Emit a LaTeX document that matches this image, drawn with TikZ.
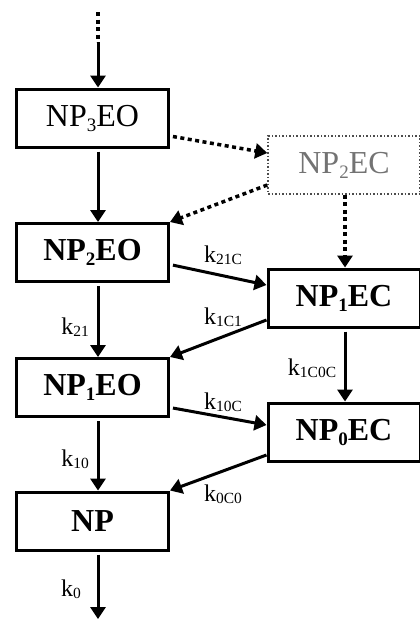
\documentclass[tikz,border=0pt]{standalone}
\usepackage{fontspec}
\setmainfont{Liberation Serif}
\usetikzlibrary{arrows.meta}
\newcommand{\boxsub}[1]{\raisebox{-5pt}{\fontsize{19}{19}\selectfont #1}}
\newcommand{\taux}[1]{k\raisebox{-1.5pt}{\fontsize{15.5}{15.5}\selectfont #1}}
\begin{document}
\begin{tikzpicture}[x=1pt,y=-1pt,line join=miter]
\tikzstyle{boite} = [draw,line width=3pt,minimum width=152pt,minimum height=58pt,inner sep=0pt,font=\fontsize{32}{34}\selectfont]
\tikzstyle{fleche} = [line width=3pt,-{Triangle[length=12pt,width=15pt]}]
\tikzstyle{pointille} = [line width=3.5pt,dash pattern=on 4pt off 3.5pt]
\tikzstyle{etiq} = [inner sep=0pt,font=\fontsize{24}{26}\selectfont]
\clip (0,0) rectangle (420,619);
%colonne de gauche
\node[boite] (NP3EO) at (92.5,118) {NP\boxsub{3}EO};
\node[boite,font=\fontsize{32}{34}\selectfont\bfseries] (NP2EO) at (92.5,252.5) {NP\boxsub{2}EO};
\node[boite,font=\fontsize{32}{34}\selectfont\bfseries] (NP1EO) at (92.5,387.5) {NP\boxsub{1}EO};
\node[boite,font=\fontsize{32}{34}\selectfont\bfseries] (NP) at (92.5,521) {NP};
%colonne de droite
\node[boite,line width=1.5pt,dash pattern=on 1.5pt off 2pt,draw=black!70,text=black!55] (NP2EC) at (344,165) {NP\boxsub{2}EC};
\node[boite,font=\fontsize{32}{34}\selectfont\bfseries] (NP1EC) at (344,298) {NP\boxsub{1}EC};
\node[boite,font=\fontsize{32}{34}\selectfont\bfseries] (NP0EC) at (344,432) {NP\boxsub{0}EC};
%entree et sortie
\coordinate (haut) at (98,12);
\coordinate (milieu) at (98,42);
\coordinate (bas) at (98,619);
\draw[pointille] (haut)--(milieu);
\draw[fleche] (milieu)--([xshift=5.5pt]NP3EO.north);
\draw[fleche,shorten <=3pt] ([xshift=5.5pt]NP.south)--(bas);
%fleches verticales
\draw[fleche,shorten <=3pt] ([xshift=5.5pt]NP3EO.south)--([xshift=5.5pt]NP2EO.north);
\draw[fleche,shorten <=3pt] ([xshift=5.5pt]NP2EO.south)--([xshift=5.5pt]NP1EO.north);
\draw[fleche,shorten <=3pt] ([xshift=5.5pt]NP1EO.south)--([xshift=5.5pt]NP.north);
\draw[fleche,shorten <=3pt] ([xshift=1pt]NP1EC.south)--([xshift=1pt]NP0EC.north);
\draw[fleche,pointille] ([xshift=1pt]NP2EC.south)--([xshift=1pt]NP1EC.north);
%fleches en pointilles
\draw[fleche,pointille,shorten <=3pt] ([yshift=-18pt]NP3EO.east)--([yshift=12pt]NP2EC.west);
\draw[fleche,pointille] ([yshift=-20pt]NP2EC.west)--(NP2EO.north east);
%fleches obliques
\draw[fleche,shorten <=3pt] ([yshift=-12pt]NP2EO.east)--([yshift=13pt]NP1EC.west);
\draw[fleche] ([yshift=-22pt]NP1EC.west)--(NP1EO.north east);
\draw[fleche,shorten <=3pt] ([yshift=-20pt]NP1EO.east)--([yshift=7pt]NP0EC.west);
\draw[fleche] ([yshift=-23pt]NP0EC.west)--(NP.north east);
%constantes
\node[etiq] (k21C) at (223,255) {\taux{21C}};
\node[etiq] (k1C1) at (223,317) {\taux{1C1}};
\node[etiq] (k21) at (75,327) {\taux{21}};
\node[etiq] (k1C0C) at (312,368) {\taux{1C0C}};
\node[etiq] (k10C) at (223,402) {\taux{10C}};
\node[etiq] (k10) at (75,459) {\taux{10}};
\node[etiq] (k0C0) at (223,494) {\taux{0C0}};
\node[etiq] (k0) at (71,589) {\taux{0}};
\end{tikzpicture}
\end{document}
